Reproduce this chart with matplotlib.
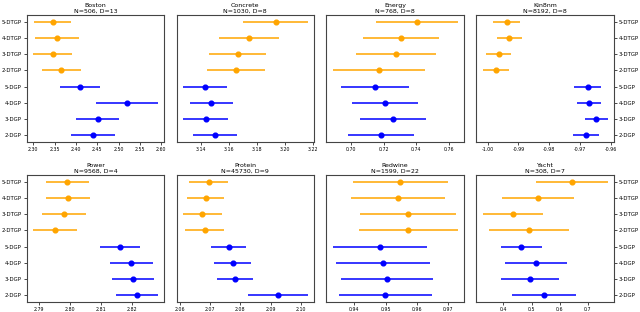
import matplotlib
matplotlib.use("Agg")
import matplotlib.pyplot as plt
import numpy as np

models = ["2-DGP", "3-DGP", "4-DGP", "5-DGP", "2-DTGP", "3-DTGP", "4-DTGP", "5-DTGP"]

titles = ["Boston\nN=506, D=13", "Concrete\nN=1030, D=8", "Energy\nN=768, D=8",
          "Kin8nm\nN=8192, D=8", "Power\nN=9568, D=4", "Protein\nN=45730, D=9",
          "Redwine\nN=1599, D=22", "Yacht\nN=308, D=7"]

# means in model order: 2-DGP .. 5-DGP, 2-DTGP .. 5-DTGP
boston_mean = [2.440, 2.451, 2.520, 2.409, 2.366, 2.345, 2.355, 2.345]
boston_err = [0.051, 0.051, 0.072, 0.047, 0.046, 0.046, 0.051, 0.044]
concrete_mean = [3.1499, 3.1431, 3.1472, 3.1424, 3.1649, 3.1661, 3.1743, 3.1934]
concrete_err = [0.016, 0.016, 0.0156, 0.0157, 0.021, 0.0204, 0.0215, 0.0231]
energy_mean = [0.7183, 0.7256, 0.7210, 0.7148, 0.7169, 0.7275, 0.7307, 0.7401]
energy_err = [0.0202, 0.0201, 0.0202, 0.0207, 0.028, 0.0243, 0.0233, 0.025]
kin8nm_mean = [-0.96818, -0.96483, -0.96699, -0.96753, -0.99741, -0.99644, -0.99299, -0.99385]
kin8nm_err = [0.0042, 0.0037, 0.0039, 0.0044, 0.0042, 0.0041, 0.0040, 0.0043]
power_mean = [2.82149, 2.82021, 2.81968, 2.81596, 2.79511, 2.79798, 2.79936, 2.79915]
power_err = [0.0067, 0.0068, 0.0069, 0.0064, 0.0070, 0.0070, 0.0070, 0.0070]
protein_mean = [2.09231, 2.07824, 2.07747, 2.07615, 2.06824, 2.06747, 2.06868, 2.06956]
protein_err = [0.0099, 0.0059, 0.0060, 0.0057, 0.0065, 0.0064, 0.0061, 0.0063]
redwine_mean = [0.94986, 0.95039, 0.94922, 0.94806, 0.95717, 0.95707, 0.95378, 0.95463]
redwine_err = [0.0148, 0.0146, 0.0150, 0.0150, 0.0158, 0.0153, 0.0150, 0.0152]
yacht_mean = [0.5447, 0.4949, 0.515, 0.464, 0.4913, 0.4332, 0.5233, 0.6431]
yacht_err = [0.114, 0.103, 0.111, 0.073, 0.1417, 0.107, 0.128, 0.127]

means = [boston_mean, concrete_mean, energy_mean, kin8nm_mean,
         power_mean, protein_mean, redwine_mean, yacht_mean]
errs = [boston_err, concrete_err, energy_err, kin8nm_err,
        power_err, protein_err, redwine_err, yacht_err]

xticks = [
    [2.30, 2.35, 2.40, 2.45, 2.50, 2.55, 2.60],
    [3.14, 3.16, 3.18, 3.20, 3.22],
    [0.70, 0.72, 0.74, 0.76],
    [-1.00, -0.99, -0.98, -0.97, -0.96],
    [2.79, 2.80, 2.81, 2.82],
    [2.06, 2.07, 2.08, 2.09, 2.10],
    [0.94, 0.95, 0.96, 0.97],
    [0.4, 0.5, 0.6, 0.7],
]
xfmt = ["%.2f", "%.2f", "%.2f", "%.2f", "%.2f", "%.2f", "%.2f", "%.1f"]

colors = ["blue"] * 4 + ["orange"] * 4

fig, axes = plt.subplots(2, 4, figsize=(6.4, 3.12), dpi=100)
fig.subplots_adjust(left=0.0417, right=0.959, top=0.951, bottom=0.033,
                    wspace=0.091, hspace=0.263)

ypos = np.arange(len(models))
for i, ax in enumerate(axes.flat):
    for j in range(len(models)):
        ax.errorbar(means[i][j], ypos[j], xerr=errs[i][j], fmt="o",
                    color=colors[j], ms=3.4, lw=1.1, capsize=0)
    ax.set_ylim(-0.4, 7.4)
    ax.set_xticks(xticks[i])
    ax.set_xticklabels([xfmt[i] % v for v in xticks[i]], fontsize=3.4)
    ax.set_title(titles[i], fontsize=4.5, pad=2, linespacing=1.1)
    ax.tick_params(axis="x", length=2, width=0.5, pad=1.5)
    for s in ax.spines.values():
        s.set_linewidth(0.8)
        s.set_color("#444444")
    col = i % 4
    if col == 0:
        ax.set_yticks(ypos)
        ax.set_yticklabels(models, fontsize=3.9)
        ax.tick_params(axis="y", length=2, width=0.5, pad=1.5)
    elif col == 3:
        ax.yaxis.tick_right()
        ax.set_yticks(ypos)
        ax.set_yticklabels(models, fontsize=3.9)
        ax.tick_params(axis="y", length=2, width=0.5, pad=1.5)
    else:
        ax.set_yticks([])

fig.savefig("out.png", dpi=100)
